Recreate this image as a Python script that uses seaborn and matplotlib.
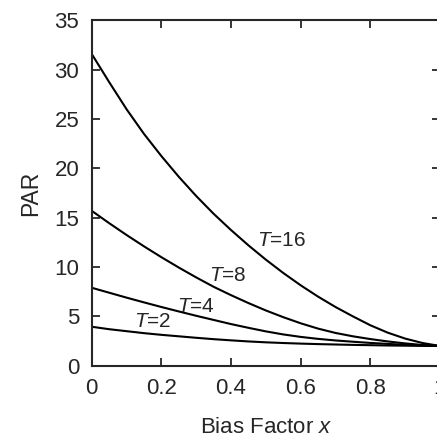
import numpy as np
import pandas as pd
import matplotlib
matplotlib.use("Agg")
import matplotlib.pyplot as plt
import seaborn as sns

# values
bias = [0.0, 0.05, 0.1, 0.15, 0.2, 0.25, 0.3, 0.35, 0.4, 0.45, 0.5,
        0.55, 0.6, 0.65, 0.7, 0.75, 0.8, 0.85, 0.9, 0.95, 1.0]
par_t16 = [31.6, 28.75, 26.0, 23.5, 21.25, 19.15, 17.2, 15.4, 13.75, 12.2, 10.75,
           9.4, 8.15, 7.0, 5.95, 5.0, 4.1, 3.35, 2.75, 2.3, 2.0]
par_t8 = [15.7, 14.45, 13.25, 12.1, 11.0, 9.95, 8.95, 8.0, 7.15, 6.35, 5.6,
          4.92, 4.3, 3.76, 3.32, 2.98, 2.7, 2.46, 2.26, 2.1, 2.0]
par_t4 = [7.9, 7.4, 6.9, 6.42, 5.95, 5.5, 5.06, 4.64, 4.22, 3.84, 3.48,
          3.17, 2.92, 2.72, 2.56, 2.43, 2.31, 2.21, 2.12, 2.05, 2.0]
par_t2 = [3.95, 3.7, 3.5, 3.3, 3.13, 2.98, 2.83, 2.69, 2.57, 2.46, 2.37,
          2.3, 2.24, 2.19, 2.15, 2.11, 2.08, 2.05, 2.03, 2.01, 2.0]
curve_names = ["16", "8", "4", "2"]
label_x = [0.546, 0.392, 0.30, 0.175]
label_y = [12.7, 9.1, 6.05, 4.43]

rows = []
for name, vals in zip(curve_names, [par_t16, par_t8, par_t4, par_t2]):
    for b, v in zip(bias, vals):
        rows.append({"bias": b, "PAR": v, "T": name})
df = pd.DataFrame(rows)

sns.set_style("ticks")
plt.rcParams["font.family"] = ["Liberation Sans", "DejaVu Sans"]
plt.rcParams["mathtext.fontset"] = "custom"
plt.rcParams["mathtext.it"] = "Liberation Sans:italic"
plt.rcParams["mathtext.rm"] = "Liberation Sans"

fig = plt.figure(figsize=(4.37, 4.42), dpi=100)
ax = fig.add_axes([0.2098, 0.1726, 0.797, 0.7814])

sns.lineplot(data=df, x="bias", y="PAR", hue="T", units="T", estimator=None,
             palette=["black"] * 4, linewidth=1.5, legend=False, ax=ax)

for name, lx, ly in zip(curve_names, label_x, label_y):
    ax.text(lx, ly, "$T$=" + name, fontsize=15, ha="center", va="center")

ax.set_xlim(0, 1)
ax.set_ylim(0, 35)
ax.set_xticks([0, 0.2, 0.4, 0.6, 0.8, 1])
ax.set_xticklabels(["0", "0.2", "0.4", "0.6", "0.8", "1"])
ax.set_yticks([0, 5, 10, 15, 20, 25, 30, 35])
ax.tick_params(direction="in", top=True, right=True, length=6, width=1.3,
               labelsize=16, pad=9)
for sp in ax.spines.values():
    sp.set_linewidth(1.5)
    sp.set_visible(True)

ax.set_xlabel("Bias Factor $x$", fontsize=16, labelpad=13)
ax.set_ylabel("PAR", fontsize=16.5, labelpad=9)

fig.savefig("out.png", dpi=100)
